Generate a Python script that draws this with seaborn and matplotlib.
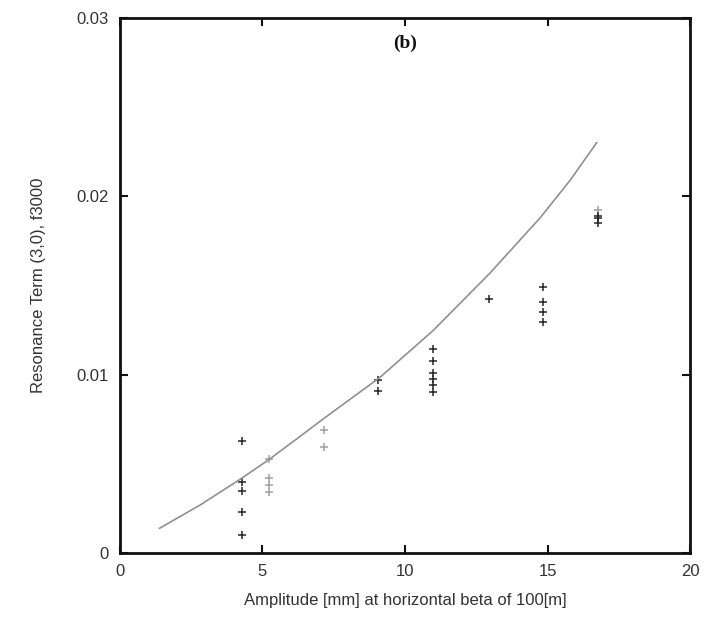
import matplotlib
matplotlib.use("Agg")
import matplotlib.pyplot as plt
import seaborn as sns
import pandas as pd

# Analytical resonance term curve
curve_amp = [1.38, 2.81, 4.21, 5.20, 6.20, 7.13, 9.12, 11.0, 12.98, 14.74, 15.79, 16.73]
curve_f3000 = [0.00138, 0.00269, 0.00413, 0.00521, 0.00640, 0.00752, 0.00985, 0.0125,
               0.01570, 0.01880, 0.02090, 0.02303]

# Measured resonance term (dark markers)
meas_amp = [4.27, 4.27, 4.27, 4.27, 4.27,
            9.06, 9.06,
            10.99, 10.99, 10.99, 10.99, 10.99, 10.99,
            12.95,
            14.84, 14.84, 14.84, 14.84,
            16.77, 16.77, 16.77]
meas_f3000 = [0.0063, 0.0040, 0.0035, 0.0023, 0.0010,
              0.0097, 0.0091,
              0.01146, 0.01079, 0.0101, 0.00978, 0.00944, 0.00904,
              0.01427,
              0.01494, 0.0141, 0.01354, 0.01298,
              0.0189, 0.01877, 0.0185]

# Measured resonance term (light markers)
light_amp = [5.23, 5.23, 5.23, 5.23, 7.16, 7.16, 16.77]
light_f3000 = [0.0053, 0.0042, 0.0038, 0.00344, 0.0069, 0.00596, 0.01923]

x_ticks = [0, 5, 10, 15, 20]
y_ticks = [0, 0.01, 0.02, 0.03]
y_ticklabels = ["0", "0.01", "0.02", "0.03"]

sns.set_theme(style="ticks")
plt.rcParams["font.family"] = ["Liberation Sans", "DejaVu Sans"]

fig = plt.figure(figsize=(7.07, 6.27), dpi=100)
ax = fig.add_axes([0.1697, 0.118, 0.8063, 0.853])

curve_df = pd.DataFrame({"amp": curve_amp, "f": curve_f3000})
meas_df = pd.DataFrame({"amp": meas_amp, "f": meas_f3000})
light_df = pd.DataFrame({"amp": light_amp, "f": light_f3000})

sns.lineplot(data=curve_df, x="amp", y="f", ax=ax, color="#909090", linewidth=1.2,
             estimator=None, sort=True)
sns.scatterplot(data=light_df, x="amp", y="f", ax=ax, marker="+", color="#a0a0a0",
                s=38, linewidth=1.1)
sns.scatterplot(data=meas_df, x="amp", y="f", ax=ax, marker="+", color="#262626",
                s=38, linewidth=1.1)

ax.set_xlim(0, 20)
ax.set_ylim(0, 0.03)
ax.set_xticks(x_ticks)
ax.set_xticklabels([str(t) for t in x_ticks])
ax.set_yticks(y_ticks)
ax.set_yticklabels(y_ticklabels)
ax.tick_params(direction="in", length=6, width=1.5, top=True, right=True,
               labelsize=12, colors="#111111", labelcolor="#333333", pad=8)

for sp in ax.spines.values():
    sp.set_visible(True)
    sp.set_linewidth(2.0)
    sp.set_color("#111111")

ax.set_xlabel("Amplitude [mm] at horizontal beta of 100[m]", fontsize=12,
              color="#333333", labelpad=10)
ax.set_ylabel("Resonance Term (3,0), f3000", fontsize=12, color="#333333",
              labelpad=22)

ax.text(10.0, 0.0286, "(b)", fontsize=14, fontweight="bold",
        family=["Liberation Serif", "DejaVu Serif"], ha="center", va="center",
        color="#111111")

fig.savefig("out.png", dpi=100, facecolor="white")
